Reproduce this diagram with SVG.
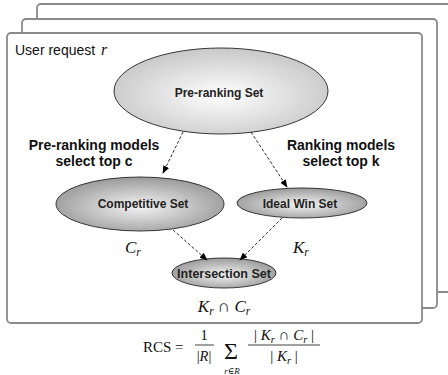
<svg xmlns="http://www.w3.org/2000/svg" width="448" height="375" viewBox="0 0 448 375">
<defs>
<radialGradient id="gLight" cx="50%" cy="55%" r="55%">
<stop offset="0" stop-color="#ffffff"/>
<stop offset="1" stop-color="#c8c8c8"/>
</radialGradient>
<radialGradient id="gDark" cx="50%" cy="55%" r="55%">
<stop offset="0" stop-color="#f4f4f4"/>
<stop offset="1" stop-color="#9a9a9a"/>
</radialGradient>
<marker id="arr" viewBox="0 0 10 10" refX="9" refY="5" markerWidth="8" markerHeight="8" markerUnits="userSpaceOnUse" orient="auto">
<path d="M0,1 L10,5 L0,9 Z" fill="#000"/>
</marker>
</defs>
<style>
.frame{fill:#fff;stroke:#8a8a8a;stroke-width:1.8}
.node{stroke:#222;stroke-width:0.9}
.lbl{font-family:"Liberation Sans",Arial,sans-serif;font-weight:bold;fill:#222;text-anchor:middle}
.note{font-family:"Liberation Sans",Arial,sans-serif;font-weight:bold;font-size:14px;fill:#111;text-anchor:middle}
.math{font-family:"Liberation Serif","DejaVu Serif",serif;fill:#111}
.it{font-style:italic}
.conn{fill:none;stroke:#111;stroke-width:0.9;stroke-dasharray:3,2;marker-end:url(#arr)}
</style>
<g id="frames">
<rect class="frame" x="37" y="4" width="430" height="288" rx="4"/>
<rect class="frame" x="22" y="19" width="415" height="289" rx="4"/>
<rect class="frame" x="7" y="33" width="415" height="290" rx="4"/>
</g>
<text x="15" y="55" font-family="'Liberation Sans',Arial,sans-serif" font-size="14" fill="#111">User request <tspan class="math it" font-size="16" dx="2">r</tspan></text>
<g id="pre-ranking">
<ellipse class="node" cx="221" cy="91" rx="107" ry="43" fill="url(#gLight)"/>
<text class="lbl" x="219" y="97" font-size="12">Pre-ranking Set</text>
</g>
<g id="competitive">
<ellipse class="node" cx="140" cy="204" rx="84" ry="27" fill="url(#gDark)"/>
<text class="lbl" x="143" y="208" font-size="12">Competitive Set</text>
</g>
<g id="ideal">
<ellipse class="node" cx="302" cy="203" rx="65" ry="15" fill="url(#gDark)"/>
<text class="lbl" x="300" y="208" font-size="12">Ideal Win Set</text>
</g>
<g id="intersection">
<ellipse class="node" cx="224" cy="273" rx="52" ry="15" fill="url(#gDark)"/>
<text class="lbl" x="224" y="278" font-size="12.5">Intersection Set</text>
</g>
<g id="connectors">
<line class="conn" x1="183" y1="132" x2="163" y2="173"/>
<line class="conn" x1="251" y1="132" x2="287" y2="187"/>
<line class="conn" x1="173" y1="230" x2="207" y2="260"/>
<line class="conn" x1="282" y1="218" x2="240" y2="260"/>
</g>
<text class="note" x="94" y="150">Pre-ranking models</text>
<text class="note" x="94" y="166">select top c</text>
<text class="note" x="341" y="150">Ranking models</text>
<text class="note" x="341" y="166">select top k</text>
<text class="math it" x="125" y="253" font-size="17">C<tspan font-size="11.5" dy="3">r</tspan></text>
<text class="math it" x="293" y="253" font-size="17">K<tspan font-size="11.5" dy="3">r</tspan></text>
<text class="math" x="224" y="312" font-size="17" text-anchor="middle"><tspan class="it">K</tspan><tspan class="it" font-size="11.5" dy="3">r</tspan><tspan dy="-3"> ∩ </tspan><tspan class="it">C</tspan><tspan class="it" font-size="11.5" dy="3">r</tspan></text>
<g id="formula">
<text class="math" x="143" y="352" font-size="15">RCS =</text>
<text class="math" x="204" y="340" font-size="14.5" text-anchor="middle">1</text>
<line x1="195" y1="345" x2="214" y2="345" stroke="#111" stroke-width="0.8"/>
<text class="math" x="204" y="361" font-size="14.5" text-anchor="middle">|<tspan class="it">R</tspan>|</text>
<text class="math" x="231" y="359" font-size="24" text-anchor="middle">Σ</text>
<text class="math it" x="232" y="374" font-size="9" text-anchor="middle">r∈R</text>
<text class="math" x="284" y="340" font-size="15" text-anchor="middle">| <tspan class="it">K</tspan><tspan class="it" font-size="10.5" dy="3">r</tspan><tspan dy="-3"> ∩ </tspan><tspan class="it">C</tspan><tspan class="it" font-size="10.5" dy="3">r</tspan><tspan dy="-3"> |</tspan></text>
<line x1="248" y1="345" x2="320" y2="345" stroke="#111" stroke-width="0.8"/>
<text class="math" x="284" y="361" font-size="15" text-anchor="middle">| <tspan class="it">K</tspan><tspan class="it" font-size="10.5" dy="3">r</tspan><tspan dy="-3"> |</tspan></text>
</g>
</svg>
